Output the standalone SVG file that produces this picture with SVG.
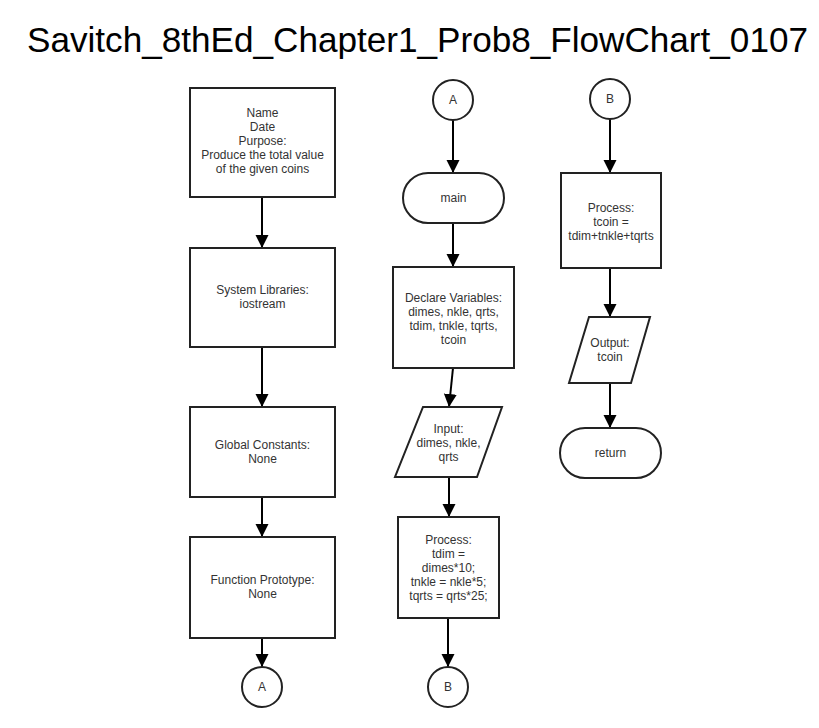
<svg xmlns="http://www.w3.org/2000/svg" width="819" height="728" viewBox="0 0 819 728">
<defs>
<marker id="arr" markerUnits="userSpaceOnUse" markerWidth="14" markerHeight="14" viewBox="0 0 14 14" refX="13" refY="7" orient="auto">
<path d="M0,0.5 L13,7 L0,13.5 Z" fill="#000"/>
</marker>
<style>
.s{fill:#fff;stroke:#222;stroke-width:2}
.t{font-family:"Liberation Sans",Arial,sans-serif;font-size:12px;fill:#333;text-anchor:middle}
.c{fill:none;stroke:#000;stroke-width:2;marker-end:url(#arr)}
.title{font-family:"Liberation Sans",Arial,sans-serif;font-size:35px;fill:#000}
</style>
</defs>
<rect width="819" height="728" fill="#fff"/>
<text class="title" x="27" y="52" textLength="781" lengthAdjust="spacingAndGlyphs">Savitch_8thEd_Chapter1_Prob8_FlowChart_0107</text>
<g id="connectors">
<line class="c" x1="262" y1="197" x2="262" y2="248"/>
<line class="c" x1="262" y1="347" x2="262" y2="407"/>
<line class="c" x1="262" y1="497" x2="262" y2="537"/>
<line class="c" x1="262" y1="638" x2="262" y2="667"/>
<line class="c" x1="453" y1="120" x2="453" y2="173"/>
<line class="c" x1="453" y1="223" x2="453" y2="267"/>
<line class="c" x1="453" y1="368" x2="449" y2="407"/>
<line class="c" x1="449" y1="477" x2="449" y2="517"/>
<line class="c" x1="448" y1="618" x2="448" y2="667"/>
<line class="c" x1="610" y1="119" x2="610" y2="173"/>
<line class="c" x1="610" y1="268" x2="610" y2="317"/>
<line class="c" x1="610" y1="383" x2="610" y2="428"/>
</g>
<g id="header">
<rect class="s" x="190" y="88" width="145" height="109"/>
<text class="t" x="262.5" y="117">Name</text>
<text class="t" x="262.5" y="131">Date</text>
<text class="t" x="262.5" y="145">Purpose:</text>
<text class="t" x="262.5" y="159">Produce the total value</text>
<text class="t" x="262.5" y="173">of the given coins</text>
</g>
<g id="libraries">
<rect class="s" x="190" y="248" width="145" height="99"/>
<text class="t" x="262.5" y="294">System Libraries:</text>
<text class="t" x="262.5" y="308">iostream</text>
</g>
<g id="constants">
<rect class="s" x="190" y="407" width="145" height="90"/>
<text class="t" x="262.5" y="449">Global Constants:</text>
<text class="t" x="262.5" y="463">None</text>
</g>
<g id="prototype">
<rect class="s" x="190" y="537" width="145" height="101"/>
<text class="t" x="262.5" y="584">Function Prototype:</text>
<text class="t" x="262.5" y="598">None</text>
</g>
<g id="connA1">
<circle class="s" cx="262" cy="687" r="20"/>
<text class="t" x="262" y="691">A</text>
</g>
<g id="connA2">
<circle class="s" cx="453" cy="100" r="20"/>
<text class="t" x="453" y="104">A</text>
</g>
<g id="main">
<rect class="s" x="403" y="173" width="101" height="50" rx="25" ry="25"/>
<text class="t" x="453.5" y="202">main</text>
</g>
<g id="declare">
<rect class="s" x="393" y="267" width="121" height="101"/>
<text class="t" x="453.5" y="302">Declare Variables:</text>
<text class="t" x="453.5" y="316">dimes, nkle, qrts,</text>
<text class="t" x="453.5" y="330">tdim, tnkle, tqrts,</text>
<text class="t" x="453.5" y="344">tcoin</text>
</g>
<g id="input">
<polygon class="s" points="423,407 502,407 477,477 395,477"/>
<text class="t" x="448.5" y="433">Input:</text>
<text class="t" x="448.5" y="447">dimes, nkle,</text>
<text class="t" x="448.5" y="461">qrts</text>
</g>
<g id="process1">
<rect class="s" x="398" y="517" width="101" height="101"/>
<text class="t" x="448.5" y="544">Process:</text>
<text class="t" x="448.5" y="558">tdim =</text>
<text class="t" x="448.5" y="572">dimes*10;</text>
<text class="t" x="448.5" y="586">tnkle = nkle*5;</text>
<text class="t" x="448.5" y="600">tqrts = qrts*25;</text>
</g>
<g id="connB1">
<circle class="s" cx="448" cy="687" r="20"/>
<text class="t" x="448" y="691">B</text>
</g>
<g id="connB2">
<circle class="s" cx="610" cy="99" r="20"/>
<text class="t" x="610" y="103">B</text>
</g>
<g id="process2">
<rect class="s" x="561" y="173" width="100" height="95"/>
<text class="t" x="611" y="212">Process:</text>
<text class="t" x="611" y="226">tcoin =</text>
<text class="t" x="611" y="240">tdim+tnkle+tqrts</text>
</g>
<g id="output">
<polygon class="s" points="589,317 650,317 631,383 569,383"/>
<text class="t" x="610" y="347">Output:</text>
<text class="t" x="610" y="361">tcoin</text>
</g>
<g id="return">
<rect class="s" x="560" y="428" width="101" height="50" rx="25" ry="25"/>
<text class="t" x="610.5" y="457">return</text>
</g>
</svg>
